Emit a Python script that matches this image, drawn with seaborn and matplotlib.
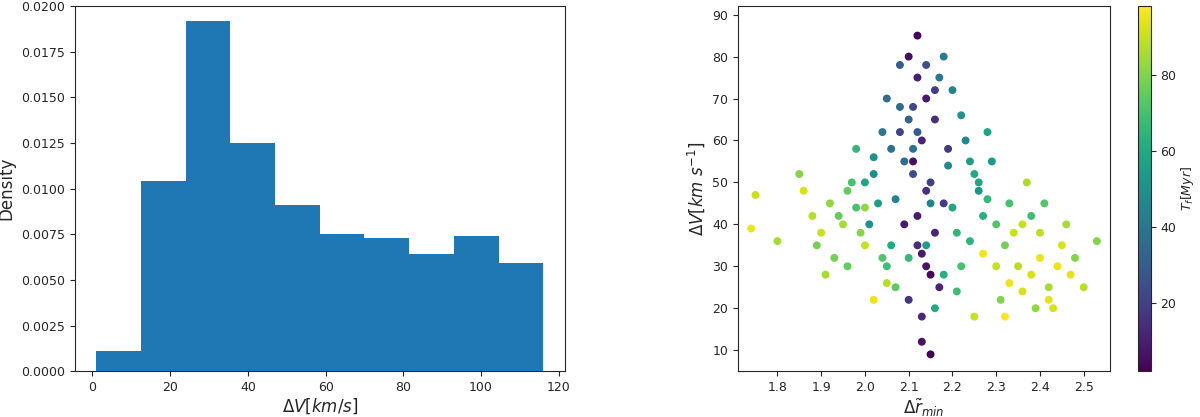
import matplotlib
matplotlib.use("Agg")
import matplotlib.pyplot as plt
import seaborn as sns
import numpy as np

# histogram
bin_edges = [1.0, 12.5, 24.0, 35.5, 47.0, 58.5, 70.0, 81.5, 93.0, 104.5, 116.0]
densities = [0.0011, 0.0104, 0.0192, 0.0125, 0.0091, 0.0075, 0.0073, 0.0064, 0.0074, 0.0059]

# hand-picked representative points of the right panel scatter
dr_min = [2.10, 2.12, 2.14, 2.16, 2.13, 2.11, 2.15, 2.18, 2.09, 2.12, 2.14, 2.17, 2.10, 2.13, 2.15, 2.11,
          2.16, 2.12, 2.14, 2.19, 2.08, 2.13, 2.15, 2.12, 2.14, 2.11, 2.16, 2.13,
          2.05, 2.08, 2.20, 2.22, 2.04, 2.24, 2.06, 2.18, 2.02, 2.26, 2.10, 2.20, 2.07, 2.23, 2.01, 2.25,
          2.09, 2.17, 2.03, 2.27, 2.06, 2.21, 2.12, 2.19, 2.00, 2.28, 2.05, 2.22, 2.15, 2.08, 2.24, 2.11,
          1.98, 2.30, 2.02, 2.26, 1.96, 2.32, 2.04, 2.18, 2.14, 2.07, 2.29, 1.99, 2.21, 2.10, 2.16, 2.33,
          1.95, 2.00, 2.35, 2.38, 1.92, 2.40, 1.90, 2.42, 1.93, 2.36, 1.97, 2.31, 2.44, 1.88, 2.45, 1.85,
          2.47, 1.91, 2.39, 1.94, 2.34, 1.98, 2.41, 2.02, 2.37, 2.30, 1.86, 2.50, 1.80, 2.53, 1.75, 1.74,
          2.43, 1.89, 2.46, 2.28, 2.05, 2.33, 2.25, 1.96, 2.48, 2.40, 2.36, 2.00, 2.27, 2.42, 2.32, 2.38]
delta_v = [80, 75, 70, 65, 60, 55, 50, 45, 40, 35, 30, 25, 22, 18, 28, 68,
           72, 85, 78, 58, 62, 12, 9, 42, 48, 52, 38, 33,
           70, 78, 72, 66, 62, 55, 58, 80, 52, 48, 65, 44, 46, 60, 40, 52,
           55, 75, 45, 42, 35, 38, 62, 54, 50, 46, 30, 30, 45, 68, 36, 58,
           44, 40, 56, 50, 48, 35, 32, 28, 35, 25, 55, 38, 24, 32, 20, 45,
           40, 35, 30, 28, 45, 32, 38, 25, 32, 40, 50, 22, 30, 42, 35, 52,
           28, 28, 20, 42, 38, 58, 45, 22, 50, 30, 48, 25, 36, 36, 47, 39,
           20, 35, 40, 62, 26, 26, 18, 30, 32, 38, 24, 44, 33, 22, 18, 42]
t_f = [5, 10, 8, 15, 12, 6, 20, 18, 9, 14, 7, 11, 16, 13, 4, 22,
       19, 3, 25, 17, 21, 6, 2, 10, 15, 24, 12, 8,
       35, 30, 45, 50, 40, 55, 38, 42, 48, 52, 32, 58, 44, 46, 50, 60,
       36, 40, 55, 62, 60, 65, 30, 48, 58, 66, 68, 70, 45, 34, 64, 38,
       70, 72, 50, 58, 75, 78, 72, 62, 55, 74, 52, 80, 68, 66, 60, 70,
       85, 90, 88, 92, 82, 95, 90, 85, 78, 90, 70, 80, 95, 88, 92, 80,
       94, 85, 82, 75, 90, 65, 72, 95, 86, 90, 92, 88, 85, 80, 90, 95,
       92, 78, 85, 58, 88, 95, 90, 75, 80, 88, 92, 82, 96, 94, 98, 68]

sns.set_style("ticks")
plt.rcParams['font.family'] = ['DejaVu Sans']
plt.rcParams['font.size'] = 9

fig = plt.figure(figsize=(12, 4.17), dpi=100)
ax1 = fig.add_axes([0.0625, 0.11, 0.408, 0.875])
ax2 = fig.add_axes([0.615, 0.11, 0.31, 0.875])
cax = fig.add_axes([0.948, 0.11, 0.011, 0.875])

centers = [(a + b) / 2 for a, b in zip(bin_edges[:-1], bin_edges[1:])]
sns.histplot(x=centers, weights=densities, bins=bin_edges, stat="count",
             color="#1f77b4", alpha=1, edgecolor="none", ax=ax1)
ax1.set_ylim(0, 0.02)
ax1.set_xlim(-4.5, 121.5)
ax1.set_yticks(np.arange(0, 0.0201, 0.0025))
ax1.set_yticklabels([f"{v:.4f}" for v in np.arange(0, 0.0201, 0.0025)])
ax1.set_ylabel("Density", fontsize=12)
ax1.set_xlabel(r"$\Delta V [km/s]$", fontsize=12, labelpad=2)

sc = ax2.scatter(dr_min, delta_v, c=t_f, cmap="viridis", s=22, vmin=2, vmax=98)
ax2.set_xlim(1.71, 2.56)
ax2.set_ylim(5, 92)
ax2.set_xlabel(r"$\Delta \tilde{r}_{min}$", fontsize=12, labelpad=2)
ax2.set_ylabel(r"$\Delta V [km\ s^{-1}]$", fontsize=12)
cb = fig.colorbar(sc, cax=cax)
cb.set_ticks([20, 40, 60, 80])
cb.set_label(r"$T_f [Myr]$", fontsize=9, labelpad=2)

fig.savefig("out.png")
